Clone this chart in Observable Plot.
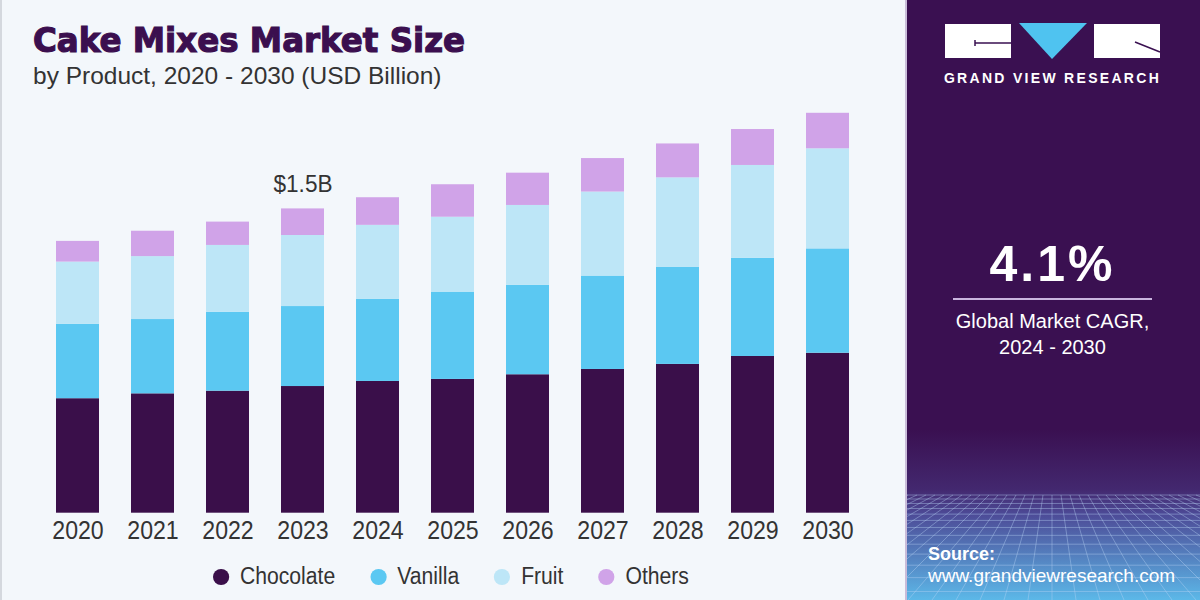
<!DOCTYPE html>
<html>
<head>
<meta charset="utf-8">
<script src="https://cdn.jsdelivr.net/npm/d3@7"></script>
<script src="https://cdn.jsdelivr.net/npm/@observablehq/plot@0.6"></script>
<style>
  html, body { margin: 0; padding: 0; }
  #root { position: relative; width: 1200px; height: 600px; overflow: hidden; background: #f3f7fb; font-family: "Liberation Sans", Arial, sans-serif; }
  #left { position: absolute; left: 0; top: 0; width: 905px; height: 600px; }
  #edge { position: absolute; left: 0; top: 0; width: 2px; height: 600px; background: #d4d8de; }
  .title { position: absolute; left: 33px; top: 23px; font-family: "DejaVu Sans", sans-serif; font-weight: bold; font-size: 34px; line-height: 34px; color: #3b0f4f; transform-origin: 0 0; transform: scaleX(0.955); white-space: nowrap; -webkit-text-stroke: 1.2px #3b0f4f; }
  .subtitle { position: absolute; left: 33px; top: 64px; font-size: 24.5px; line-height: 24px; color: #333; white-space: nowrap; }
  #chart { position: absolute; left: 0; top: 100px; }
  #legend { position: absolute; left: 213px; top: 563px; display: flex; align-items: center; gap: 38.9px; font-size: 23.5px; color: #333; transform-origin: 0 50%; transform: scaleX(0.9); white-space: nowrap; }
  .item { display: flex; align-items: center; gap: 12.2px; }
  .dot { width: 17.8px; height: 16px; border-radius: 50%; }
  #right { position: absolute; left: 905px; top: 0; width: 295px; height: 600px; background: #3a1051; overflow: hidden; }
  #right .abs { position: absolute; white-space: nowrap; color: #fff; }
</style>
</head>
<body>
<div id="root">
  <div id="left">
    <div class="title">Cake Mixes Market Size</div>
    <div class="subtitle">by Product, 2020 - 2030 (USD Billion)</div>
    <div id="chart"></div>
    <div id="legend"></div>
    <div id="edge"></div>
  </div>
  <div id="right">
    <svg id="deco" width="295" height="600" style="position:absolute;left:0;top:0"></svg>
    <div class="abs" style="left:0;width:295px;top:70px;text-align:center;font-weight:bold;font-size:14px;letter-spacing:2.3px;line-height:16px;">GRAND VIEW RESEARCH</div>
    <div class="abs" style="left:0;width:295px;top:239px;text-align:center;font-weight:bold;font-size:50px;line-height:50px;letter-spacing:3px;">4.1%</div>
    <div class="abs" style="left:48px;width:199px;top:298px;height:2px;background:#c9b5de;"></div>
    <div class="abs" style="left:0;width:295px;top:308px;text-align:center;font-size:20px;line-height:26px;">Global Market CAGR,<br>2024 - 2030</div>
    <div class="abs" style="left:23px;top:544px;font-weight:bold;font-size:18px;line-height:20px;">Source:</div>
    <div class="abs" style="left:23px;top:566px;font-size:19px;line-height:20px;">www.grandviewresearch.com</div>
  </div>
</div>
<script>
// ---- data ----
const years = ["2020","2021","2022","2023","2024","2025","2026","2027","2028","2029","2030"];
const chocolate = [0.564, 0.588, 0.601, 0.624, 0.649, 0.659, 0.682, 0.708, 0.733, 0.772, 0.788];
const vanilla   = [0.366, 0.366, 0.389, 0.394, 0.404, 0.430, 0.440, 0.460, 0.479, 0.484, 0.514];
const fruit     = [0.307, 0.310, 0.329, 0.350, 0.365, 0.369, 0.394, 0.414, 0.440, 0.457, 0.493];
const others    = [0.102, 0.125, 0.115, 0.131, 0.136, 0.160, 0.159, 0.165, 0.167, 0.177, 0.175];
const segments  = ["Chocolate", "Vanilla", "Fruit", "Others"];
const colors    = ["#3a0f4a", "#5bc8f2", "#bde6f7", "#d0a3e8"];
const annotationYear = "2023";
const annotationText = "$1.5B";

const series = [chocolate, vanilla, fruit, others];
const rows = [];
years.forEach((y, i) => {
  segments.forEach((s, j) => rows.push({year: y, segment: s, value: series[j][i]}));
});
const ai = years.indexOf(annotationYear);
const annotation = [{year: annotationYear, total: series.reduce((a, s) => a + s[ai], 0), label: annotationText}];

const chart = Plot.plot({
  width: 905,
  height: 445,
  marginLeft: 39.5,
  marginRight: 39.5,
  marginTop: 6.7,
  marginBottom: 32.3,
  style: {background: "transparent", fontFamily: "'Liberation Sans', Arial, sans-serif", fontSize: "26px", color: "#333", overflow: "visible"},
  x: {domain: years, paddingInner: 0.427, paddingOuter: 0.2135},
  y: {domain: [0, 2], axis: null},
  color: {domain: segments, range: colors},
  marks: [
    Plot.barY(rows, {x: "year", y: "value", fill: "segment", order: segments}),
    Plot.axisX({tickSize: 0, tickPadding: 7, label: null, fill: "#333"}),
    Plot.text(annotation, {x: "year", y: "total", text: "label", dy: -25, fontSize: 24, fill: "#333"})
  ]
});
document.getElementById("chart").appendChild(chart);

// condense glyphs horizontally to match the reference's narrow lettering
function condense(sel, k) {
  d3.select(chart).selectAll(sel).each(function () {
    const w = this.getComputedTextLength();
    if (w > 0) { this.setAttribute("textLength", w * k); this.setAttribute("lengthAdjust", "spacingAndGlyphs"); }
  });
}
condense('g[aria-label="x-axis tick label"] text', 0.89);
condense('g[aria-label="text"] text', 0.94);

// legend
const legend = document.getElementById("legend");
segments.forEach((s, j) => {
  const it = document.createElement("div");
  it.className = "item";
  it.innerHTML = `<span class="dot" style="background:${colors[j]}"></span><span>${s}</span>`;
  legend.appendChild(it);
});

// decorative right panel (logo + grid floor)
const deco = d3.select("#deco");
const defs = deco.append("defs");
const g = defs.append("linearGradient").attr("id", "floor").attr("x1", 0).attr("y1", 0).attr("x2", 0).attr("y2", 1);
g.append("stop").attr("offset", "0").attr("stop-color", "#3a1051");
g.append("stop").attr("offset", "0.35").attr("stop-color", "#43286f");
g.append("stop").attr("offset", "0.5").attr("stop-color", "#4d4c98");
g.append("stop").attr("offset", "1").attr("stop-color", "#5cb8e8");
deco.append("rect").attr("x", 0).attr("y", 430).attr("width", 295).attr("height", 170).attr("fill", "url(#floor)");
const grid = deco.append("g").attr("stroke", "#b9d4f5").attr("stroke-opacity", 0.4).attr("stroke-width", 1).attr("fill", "none");
let yy = 495, step = 4;
while (yy < 600) { grid.append("line").attr("x1", 0).attr("x2", 295).attr("y1", yy).attr("y2", yy); yy += step; step *= 1.12; }
for (let k = -30; k <= 30; k++) {
  const xt = 147 + k * 9, xb = 147 + k * 24;
  grid.append("line").attr("x1", xt).attr("y1", 495).attr("x2", xb).attr("y2", 600);
}
// logo
const logo = deco.append("g");
logo.append("rect").attr("x", 40).attr("y", 24).attr("width", 66).attr("height", 34).attr("fill", "#fff");
logo.append("path").attr("d", "M114,23 L182,23 L147,59 Z").attr("fill", "#4fc3f0");
logo.append("rect").attr("x", 189).attr("y", 24).attr("width", 66).attr("height", 34).attr("fill", "#fff");
logo.append("path").attr("d", "M70,40 L70,46 M70,43 L106,43").attr("stroke", "#3a1051").attr("stroke-width", 1.5);
logo.append("path").attr("d", "M230,42 L255,52").attr("stroke", "#3a1051").attr("stroke-width", 1.5);
deco.append("rect").attr("x", 0).attr("y", 0).attr("width", 2).attr("height", 600).attr("fill", "#c9bcd9");
</script>
</body>
</html>
